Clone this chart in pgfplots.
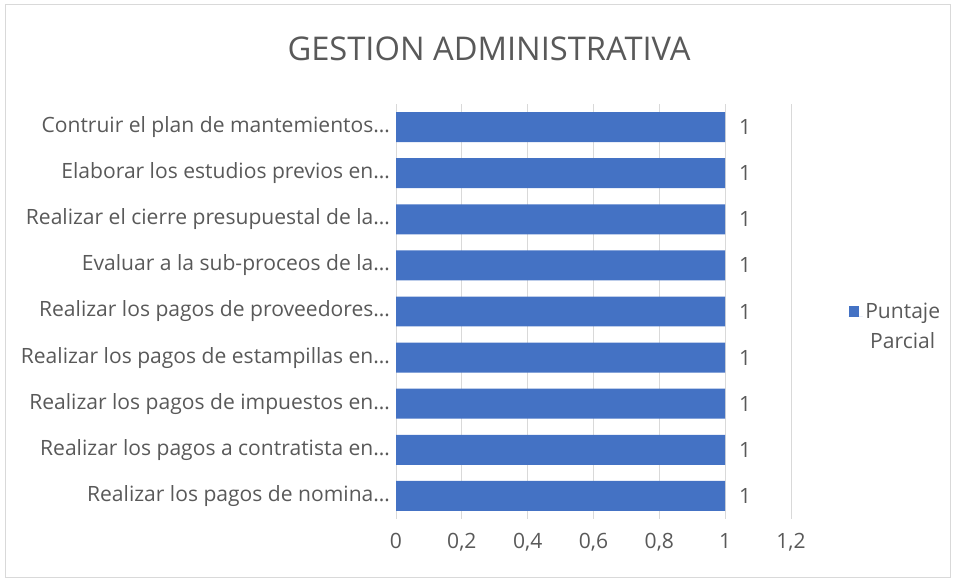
\documentclass[border=0pt]{standalone}
\usepackage{pgfplots}
\pgfplotsset{compat=1.18}
\usepackage{fontspec}
\setmainfont{Open Sans}
\definecolor{barblue}{HTML}{4472C4}
\definecolor{txtgray}{HTML}{595959}
\definecolor{gridgray}{HTML}{D9D9D9}
\begin{document}
\begin{tikzpicture}
\path (0,0) rectangle (716.25pt,435.75pt);
\draw[gridgray, line width=0.75pt] (3.75pt,3pt) rectangle (712.5pt,432.5pt);
\node[txtgray, font=\fontsize{24.5}{28}\selectfont] at (366.75pt,399pt) {GESTION ADMINISTRATIVA};
\begin{axis}[
  at={(297pt,46.5pt)}, anchor=south west,
  scale only axis, width=296.25pt, height=311.25pt,
  xbar, bar width=0.65,
  xmin=0, xmax=1.2, ymin=-0.5, ymax=8.5,
  xtick={0,0.2,0.4,0.6,0.8,1,1.2},
  ytick={0,1,2,3,4,5,6,7,8},
  yticklabels={Realizar los pagos de nomina…, Realizar los pagos a contratista en…, Realizar los pagos de impuestos en…, Realizar los pagos de estampillas en…, Realizar los pagos de proveedores…, Evaluar a la sub-proceos de la…, Realizar el cierre presupuestal de la…, Elaborar los estudios previos en…, Contruir el plan de mantemientos…},
  /pgf/number format/use comma,
  /pgf/number format/assume math mode=true,
  xmajorgrids, major grid style={gridgray, line width=0.75pt},
  axis line style={draw=none},
  axis x line*=bottom, axis y line*=left,
  major tick length=0pt,
  tick label style={txtgray, font=\fontsize{15.8}{18}\selectfont},
  xticklabel style={yshift=-7pt},
  yticklabel style={xshift=-1pt},
  nodes near coords,
  nodes near coords style={txtgray, font=\fontsize{15.8}{18}\selectfont, xshift=7pt},
  legend style={at={(1.135,0.5)}, anchor=west, yshift=-11.25pt, draw=none, fill=none,
    font=\fontsize{15.8}{22.5}\selectfont, text=txtgray, cells={align=center}},
  legend image code/.code={\fill[barblue] (0pt,7.5pt) rectangle (7.5pt,15pt);
    \path (0pt,7.5pt) -- (10.5pt,7.5pt);},
]
\addplot[fill=barblue, draw=none] coordinates {(1,0) (1,1) (1,2) (1,3) (1,4) (1,5) (1,6) (1,7) (1,8)};
\addlegendentry{Puntaje\\Parcial}
\end{axis}
\end{tikzpicture}
\end{document}
